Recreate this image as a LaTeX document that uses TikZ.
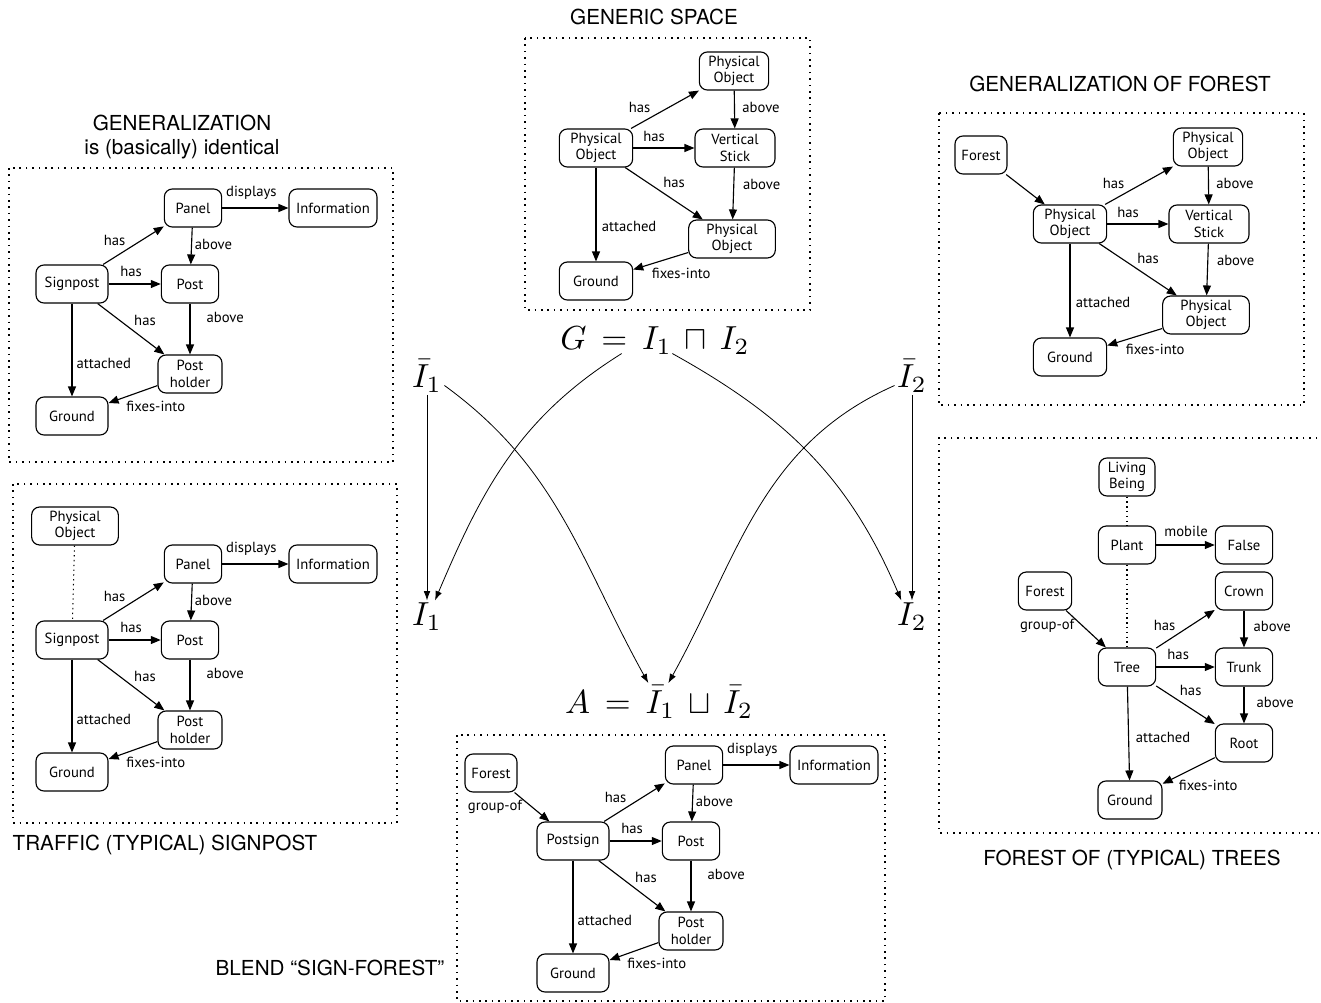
\documentclass[tikz,border=0pt]{standalone}
\usepackage[no-math]{fontspec}
\usepackage{amsmath, amssymb}
\usetikzlibrary{arrows.meta, positioning, calc}
\newfontfamily\entfam{PT Sans}
\newfontfamily\headfam{TeX Gyre Heros}

\tikzset{
  ent/.style={draw, line width=0.85pt, rounded corners=6pt, align=center,
    minimum height=28.5pt, minimum width=#1, inner xsep=2pt, inner ysep=1pt,
    font=\entfam\fontsize{11}{12.5}\selectfont},
  ent/.default=43pt,
  rel/.style={line width=0.85pt, -{Triangle[length=7.5pt,width=6pt]}},
  lbl/.style={font=\entfam\fontsize{11}{12.5}\selectfont, inner sep=2pt},
  isa/.style={line width=0.8pt, dash pattern=on 1pt off 2.6pt},
  frame/.style={line width=0.8pt, dash pattern=on 1.2pt off 3.6pt},
  head/.style={font=\headfam\fontsize{15.5}{18}\selectfont, align=center},
  frm/.style={inner sep=0.6pt, scale=2.5},
  map/.style={line width=0.6pt, -{Latex[length=7pt,width=5pt]}}
}

% signpost graph, #1 = name prefix, #2 = main entity
\newcommand{\signcore}[2]{%
  \node[ent] (#1panel) at (193,208) {Panel};
  \node[ent=66pt] (#1info) at (333,208) {Information};
  \node[ent=54pt] (#1sign) at (72,284) {#2};
  \node[ent] (#1post) at (190,284) {Post};
  \node[ent=48pt] (#1holder) at (190,374) {Post\\holder};
  \node[ent=54pt] (#1ground) at (72,416) {Ground};
  \draw[rel] (#1panel) -- node[lbl, pos=0.44, above=4pt] {displays} (#1info);
  \draw[rel] (#1sign) -- node[lbl, pos=0.42, above left] {has} (#1panel);
  \draw[rel] (#1sign) -- node[lbl, pos=0.43, above=3pt] {has} (#1post);
  \draw[rel] (#1sign) -- node[lbl, pos=0.5, above right] {has} (#1holder);
  \draw[rel] (#1panel) -- node[lbl, pos=0.45, right] {above} (#1post);
  \draw[rel] (#1post) -- node[lbl, pos=0.27, right=10pt] {above} (#1holder);
  \draw[rel] (#1sign) -- node[lbl, pos=0.65, right=1pt] {attached} (#1ground);
  \draw[rel] (#1holder) -- node[lbl, pos=0.7, below right] {fixes-into} (#1ground);
}

% physical object graph, #1 = name prefix
\newcommand{\physcore}[1]{%
  \node[ent=52pt] (#1pot) at (734,71) {Physical\\Object};
  \node[ent=55pt] (#1pol) at (596,148) {Physical\\Object};
  \node[ent=60pt] (#1stick) at (735,148) {Vertical\\Stick};
  \node[ent=65pt] (#1pob) at (732,239) {Physical\\Object};
  \node[ent=55pt] (#1gnd) at (596,281) {Ground};
  \draw[rel] (#1pol) -- node[lbl, pos=0.33, above left] {has} (#1pot);
  \draw[rel] (#1pol) -- node[lbl, pos=0.34, above=2pt] {has} (#1stick);
  \draw[rel] (#1pol) -- node[lbl, pos=0.45, above right] {has} (#1pob);
  \draw[rel] (#1pot) -- node[lbl, pos=0.45, right=3.5pt] {above} (#1stick);
  \draw[rel] (#1stick) -- node[lbl, pos=0.32, right=4.5pt] {above} (#1pob);
  \draw[rel] (#1pol) -- node[lbl, pos=0.63, right=2pt] {attached} (#1gnd);
  \draw[rel] (#1pob) -- node[lbl, pos=0.72, below right] {fixes-into} (#1gnd);
}

\begin{document}
\begin{tikzpicture}[x=0.75pt, y=-0.75pt]
\useasboundingbox (0,0) rectangle (1321,1003);

% frames
\draw[frame] (9,168) rectangle (393,462);
\draw[frame] (13,484) rectangle (397,823);
\draw[frame] (525,38) rectangle (810,310);
\draw[frame] (939,113) rectangle (1304,405);
\draw[frame] (1330,438) -- (939,438) -- (939,833) -- (1330,833);
\draw[frame] (457,735) rectangle (885,1001);

% titles
\node[head] (hgen) at (182,137) {GENERALIZATION\\is (basically) identical};
\node[head] (hgeneric) at (654,17) {GENERIC SPACE};
\node[head] (hgenforest) at (1120,84) {GENERALIZATION OF FOREST};
\node[head] (htraffic) at (165,845) {TRAFFIC (TYPICAL) SIGNPOST};
\node[head] (htrees) at (1132,860) {FOREST OF (TYPICAL) TREES};
\node[head] (hblend) at (330,968) {BLEND “SIGN-FOREST”};

% generalization
\signcore{g}{Signpost}

% traffic signpost
\begin{scope}[shift={(0,356)}]
  \signcore{t}{Signpost}
  \node[ent=65pt] (tobj) at (75,170) {Physical\\Object};
  \draw[isa] (tobj) -- (tsign);
\end{scope}

% blend
\begin{scope}[shift={(501,557)}]
  \signcore{b}{Postsign}
  \node[ent=39pt] (bforest) at (-10,216) {Forest};
  \draw[rel] (bforest) -- node[lbl, pos=0.5, left=5pt] {group-of} (bsign);
\end{scope}

% generic space
\physcore{s}

% generalization of forest
\begin{scope}[shift={(474,76)}]
  \physcore{f}
  \node[ent=39pt] (fforest) at (507,79) {Forest};
  \draw[rel] (fforest) -- (fpol);
\end{scope}

% forest of trees
\node[ent=42pt] (living) at (1127,477) {Living\\Being};
\node[ent] (plant) at (1127,545) {Plant};
\node[ent] (false) at (1244,545) {False};
\node[ent=40pt] (forest) at (1045,591) {Forest};
\node[ent] (crown) at (1244,591) {Crown};
\node[ent] (tree) at (1127,667) {Tree};
\node[ent] (trunk) at (1244,667) {Trunk};
\node[ent] (root) at (1244,743) {Root};
\node[ent=48pt] (ground) at (1130,800) {Ground};
\draw[isa] (living) -- (plant);
\draw[isa] (plant) -- (tree);
\draw[rel] (plant) -- node[lbl, pos=0.51, above=4pt] {mobile} (false);
\draw[rel] (forest) -- node[lbl, pos=0.42, left=4pt] {group-of} (tree);
\draw[rel] (tree) -- node[lbl, pos=0.38, above left] {has} (crown);
\draw[rel] (tree) -- node[lbl, pos=0.375, above=3pt] {has} (trunk);
\draw[rel] (tree) -- node[lbl, pos=0.35, above right] {has} (root);
\draw[rel] (crown) -- node[lbl, pos=0.42, right=4.8pt] {above} (trunk);
\draw[rel] (trunk) -- node[lbl, pos=0.42, right=7pt] {above} (root);
\draw[rel] (tree) -- node[lbl, pos=0.54, right=3pt] {attached} (ground);
\draw[rel] (root) -- node[lbl, pos=0.75, below right] {fixes-into} (ground);

% amalgam
\node[frm] (G) at (655,341) {$G \,=\, I_1 \,\sqcap\, I_2$};
\node[frm] (Ib1) at (427,376) {$\bar{I}_1$};
\node[frm] (Ib2) at (912,376) {$\bar{I}_2$};
\node[frm] (I1) at (427,617) {$I_1$};
\node[frm] (I2) at (912,617) {$I_2$};
\node[frm] (A) at (659,702) {$A \,=\, \bar{I}_1 \,\sqcup\, \bar{I}_2$};
\draw[map] (Ib1) -- (I1);
\draw[map] (Ib2) -- (I2);
\draw[map] ([xshift=-25pt,yshift=3pt]G.south) to[out=212, in=67] ([xshift=6pt]I1.north);
\draw[map] ([xshift=13pt,yshift=3pt]G.south) to[out=-29, in=113] ([xshift=-8pt]I2.north);
\draw[map] ([yshift=7pt]Ib1.south east) to[out=-36, in=119] ([xshift=-8pt]A.north);
\draw[map] ([yshift=7pt]Ib2.south west) to[out=204, in=61] ([xshift=7pt]A.north);
\end{tikzpicture}
\end{document}
